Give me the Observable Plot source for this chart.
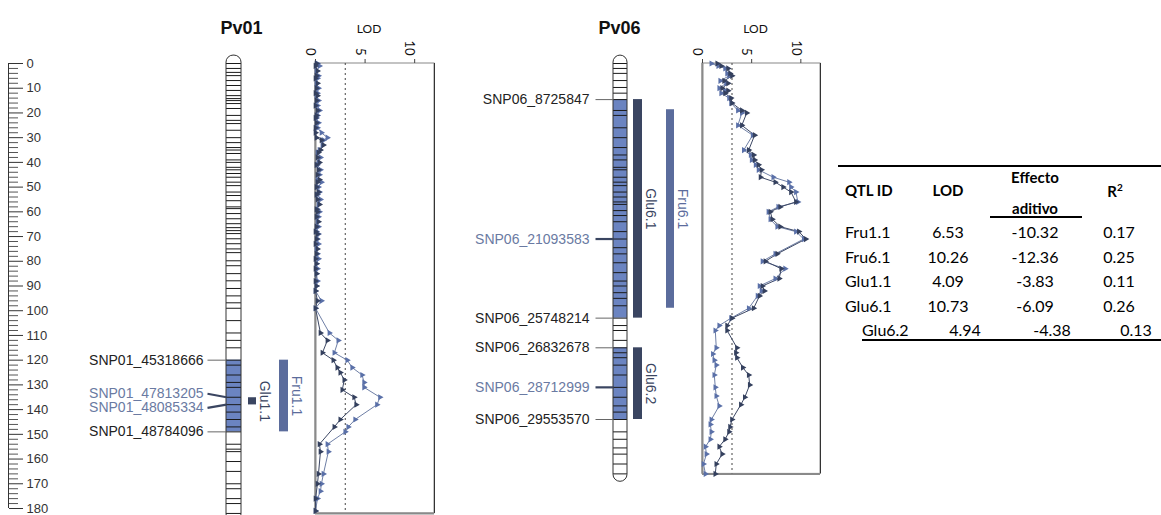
<!DOCTYPE html>
<html><head><meta charset="utf-8">
<script src="https://cdn.jsdelivr.net/npm/d3@7"></script>
<script src="https://cdn.jsdelivr.net/npm/@observablehq/plot@0.6"></script>
<style>
html,body{margin:0;padding:0;background:#fff;}
#fig{position:relative;width:1161px;height:515px;overflow:hidden;background:#fff;}
#fig svg{position:absolute;left:0;top:0;}
.tb{position:absolute;font-family:Lato,"Open Sans",sans-serif;font-size:16px;color:#000;white-space:nowrap;line-height:1;}
.tb.b{font-weight:bold;font-size:15px;}
.rule{position:absolute;height:2px;background:#000;}
</style></head><body><div id="fig"></div>
<script>
// ---------------- DATA ----------------
const chromNames = ["Pv01", "Pv06"];
const chromLength = [182, 166];           // cM
const axisMajor = d3.range(0, 181, 10);
const axisMinor = d3.range(0, 181, 2).filter(d => d % 10 !== 0);
const lodTicks = [0, 5, 10];
const lodThreshold = 3.0;

const pv01MarkerCm = [0,2,3.6,4.9,6.9,8.9,10.9,13,14.2,15,16.2,18.2,21,23,24.3,27,30,32,34,35,36.4,39,40,42,43,44.5,46,48,49.4,52,53.4,55.5,58,58.7,60.7,62.8,64.8,66.4,67.6,68.8,70.9,72.9,75,76.5,79.8,81.8,85,87.9,91,94,96.8,99,104,109,112,115,120,122,126,129,131,135,138,141,144,147,149,154,156,157,161,165,170,172,176,178,182];
const pv06MarkerCm = [0,2,4,6.9,9.7,12,14.6,19,21,26,30,34,37,39,42,43,46,48,49.4,52,54,56,57,59.5,61.5,64,68,71,74.5,77,80.6,84.6,88,90,92.7,95,98,103,106,108,112,115,117,119,122,126,131,135,138.5,141,144,149,152,155.5,158,162,166];

const regionChrom = ["Pv01", "Pv06", "Pv06"];
const regionStart = [120, 14.6, 115];
const regionEnd = [149, 103, 144];

const snpName = ["SNP01_45318666","SNP01_47813205","SNP01_48085334","SNP01_48784096","SNP06_8725847","SNP06_21093583","SNP06_25748214","SNP06_26832678","SNP06_28712999","SNP06_29553570"];
const snpChrom = ["Pv01","Pv01","Pv01","Pv01","Pv06","Pv06","Pv06","Pv06","Pv06","Pv06"];
const snpCm = [120, 135, 138, 149, 14.6, 71, 103, 115, 131, 144];
const snpLabelCm = [120, 133.6, 139.3, 149, 14.6, 71, 103, 115, 131, 144];
const snpPeak = [false, true, true, false, false, true, false, false, true, false];

const qtlId = ["Glu1.1", "Fru1.1", "Glu6.1", "Fru6.1", "Glu6.2"];
const qtlChrom = ["Pv01", "Pv01", "Pv06", "Pv06", "Pv06"];
const qtlTrait = ["Glu", "Fru", "Glu", "Fru", "Glu"];
const qtlStart = [135.2, 120, 14.6, 18.7, 115];
const qtlEnd = [138.1, 149, 103, 99, 144];

// LOD profiles
const lod01FruCm = [0,1,3,5,6,8,10,12,13,15,17,19,21,22,24,26,28,30,31,33,35,36,38,40,41,43,45,47,48,50,52,53,55,57,59,60,62,64,66,68,69,71,73,75,77,79,81,83,85,88,90,92,96,99,109,112,117,120,123,126,129,131,135,138,144,147,149,154,157,166,170,173,176,181];
const lod01Fru = [0.2,0.4,0.1,0.3,0.2,0.1,0.3,0.2,0.1,0.3,0.2,0.4,0.2,0.1,0.3,0.2,0.6,1.2,0.8,0.7,0.4,0.2,0.5,0.3,0.2,0.5,0.4,0.2,0.6,0.3,0.4,0.2,0.5,0.3,0.2,0.4,0.3,0.2,0.3,0.1,0.3,0.2,0.3,0.1,0.2,0.3,0.1,0.2,0.1,0.2,0.1,0.0,0.6,0,1.4,2.3,1.9,3.2,3.7,4.7,4.9,4.9,6.5,6.2,4.0,3.3,3.0,1.2,1.3,0.8,0.6,0.5,0.2,0];
const lod01GluCm = [0,1,3,5,6,8,10,12,13,15,17,19,21,22,24,26,28,30,31,33,35,36,38,40,41,43,45,47,48,50,52,53,55,57,59,60,62,64,66,68,69,71,73,75,77,79,81,83,85,88,90,92,96,99,109,112,117,120,123,125,128,132,135,138,144,147,154,157,166,170,176,181];
const lod01Glu = [0.1,0.0,0.2,0.1,0.0,0.2,0.1,0.0,0.2,0.1,0.0,0.2,0.1,0.0,0.1,0.0,0.0,0.1,0.6,0.8,0.5,0.3,0.2,0.4,0.1,0.3,0.2,0.4,0.2,0.1,0.3,0.1,0.2,0.4,0.1,0.2,0.1,0.3,0.1,0.0,0.2,0.1,0.0,0.2,0.1,0.0,0.1,0.0,0.1,0.0,0.1,0.0,0.2,0,0.5,1.2,0.7,1.8,2.2,2.5,2.9,2.7,3.9,4.1,2.5,1.9,0.4,0.5,0.3,0.2,0,0];

const lod06FruCm = [0,1,2,4,5,7,8,10,11,12,14,16,19,20,25,29,35,37,39,41,43,46,48,50,52,56,58,60,63,66,68,71,77,80,83,87,90,92,94,99,103,106,108,115,117.5,120,122,126,131,134.5,138.5,144,146,149,152,155,158,162,166];
const lod06Fru = [0.9,1.6,2.3,2.5,2.7,1.8,2.4,1.7,2.3,1.9,2.7,2.9,3.6,4.0,3.6,5.1,4.2,4.9,5.0,5.4,5.7,7.2,8.8,9.0,9.5,9.7,7.7,6.7,6.9,7.6,9.5,10.3,7.4,6.1,8.4,7.4,5.8,6.0,5.6,4.7,2.9,1.7,1.3,1.4,1.05,1.2,1.4,1.2,1.3,1.4,1.7,0.9,0.8,0.9,0.8,0.3,0.4,0.1,0.3];
const lod06GluCm = [0,1,2,4,5,7,8,10,11,12,14,16,19,20,25,29,35,37,39,41,43,46,48,50,52,56,58,60,63,66,68,71,77,80,83,87,90,92,94,99,103,106,108,115,117,119,123,126,130,135,138,144,147,149,152,155,158,162,166];
const lod06Glu = [1.5,1.9,2.6,2.8,3.0,2.2,2.6,2.0,2.6,2.3,2.9,3.0,4.0,4.5,4.0,5.3,4.7,5.2,5.3,5.7,6.0,5.9,7.4,8.2,9.0,9.5,7.9,6.9,7.1,7.9,9.8,10.5,7.6,6.4,8.0,7.8,6.1,6.3,5.8,5.2,3.0,2.5,2.5,3.5,3.4,3.5,4.1,4.7,4.8,4.3,3.9,3.0,2.8,2.7,2.3,1.7,2.0,1.4,1.3];

// Table
const tableHeader = ["QTL ID", "LOD", "Effecto", "aditivo", "R"];
const tableId = ["Fru1.1", "Fru6.1", "Glu1.1", "Glu6.1", "Glu6.2"];
const tableLod = ["6.53", "10.26", "4.09", "10.73", "4.94"];
const tableEffect = ["-10.32", "-12.36", "-3.83", "-6.09", "-4.38"];
const tableR2 = ["0.17", "0.25", "0.11", "0.26", "0.13"];

// ---------------- LAYOUT / STYLE ----------------
const W = 1161, H = 515;
const Y = {domain: [0, 180], range: [63, 508], axis: null};
const LAY = {
  Pv01: {chr: [226, 241], labelEnd: 203, leaderStart: 207, Glu: [248, 256], Fru: [279, 288], title: 241, lod: [315, 434]},
  Pv06: {chr: [613, 627], labelEnd: 589, leaderStart: 595, Glu: [633, 642], Fru: [666, 674], title: 619, lod: [702, 820]}
};
const COL = {chrBlue: "#6b84c1", Glu: "#3a4561", Fru: "#5b6c9c", peakLabel: "#6a7aa2", fruLine: "#6f7fa6", gluLine: "#3d4865", fruDot: "#5a70a8", gluDot: "#34405e"};
const SANS = "Liberation Sans, Arial, sans-serif";
const CAP = 3.2; // rounded cap extent in cM
const baseStyle = {background: "transparent", overflow: "visible", fontFamily: SANS, color: "#222"};
const fig = document.getElementById("fig");

// ---------------- LEFT SCALE ----------------
fig.appendChild(Plot.plot({
  width: 60, height: H, marginTop: 63, marginBottom: 7, marginLeft: 0, marginRight: 52,
  x: {domain: [0, 1], range: [8, 60], axis: null}, y: Y,
  style: {...baseStyle, color: "#333"},
  marks: [
    Plot.ruleX([0], {y1: 0, y2: 180, stroke: "#333"}),
    Plot.axisY({anchor: "right", ticks: axisMinor, tickSize: 9, tickFormat: () => "", label: null, stroke: "#555"}),
    Plot.axisY({anchor: "right", ticks: axisMajor, tickSize: 14, tickPadding: 4, fontSize: 13, label: null})
  ]
}));

// ---------------- CHROMOSOMES, MARKERS, QTL ----------------
const chroms = chromNames.map((c, i) => ({c, len: chromLength[i]}));
const markers = [
  ...pv01MarkerCm.map(cm => ({c: "Pv01", cm})),
  ...pv06MarkerCm.map(cm => ({c: "Pv06", cm}))
];
const regions = regionChrom.map((c, i) => ({c, s: regionStart[i], e: regionEnd[i]}));
const snps = snpName.map((n, i) => ({n, c: snpChrom[i], cm: snpCm[i], lcm: snpLabelCm[i], peak: snpPeak[i]}));
const qtls = qtlId.map((id, i) => ({id, c: qtlChrom[i], t: qtlTrait[i], s: qtlStart[i], e: qtlEnd[i]}));

fig.appendChild(Plot.plot({
  width: W, height: H, margin: 0,
  x: {type: "linear", domain: [0, W], range: [0, W], axis: null}, y: Y,
  style: baseStyle,
  marks: [
    Plot.rect(chroms, {x1: d => LAY[d.c].chr[0], x2: d => LAY[d.c].chr[1], y1: -CAP, y2: d => d.len + CAP, rx: 7, fill: "white"}),
    Plot.rect(regions, {x1: d => LAY[d.c].chr[0], x2: d => LAY[d.c].chr[1], y1: "s", y2: "e", fill: COL.chrBlue}),
    Plot.ruleY(markers, {y: "cm", x1: d => LAY[d.c].chr[0], x2: d => LAY[d.c].chr[1], stroke: "#1a1a1a", strokeWidth: 1}),
    Plot.rect(chroms, {x1: d => LAY[d.c].chr[0], x2: d => LAY[d.c].chr[1], y1: -CAP, y2: d => d.len + CAP, rx: 7, fill: "none", stroke: "#333", strokeWidth: 1}),
    Plot.link(snps, {x1: d => LAY[d.c].leaderStart, x2: d => LAY[d.c].chr[0], y1: "lcm", y2: "cm",
      stroke: d => d.peak ? COL.Glu : "#666", strokeWidth: d => d.peak ? 2.2 : 1}),
    Plot.text(snps, {x: d => LAY[d.c].labelEnd, y: "lcm", text: "n", textAnchor: "end", fontSize: 14,
      fill: d => d.peak ? COL.peakLabel : "#222"}),
    Plot.rect(qtls, {x1: d => LAY[d.c][d.t][0], x2: d => LAY[d.c][d.t][1], y1: "s", y2: "e", fill: d => COL[d.t]}),
    Plot.text(qtls, {x: d => LAY[d.c][d.t][1] + 8, y: d => (d.s + d.e) / 2, text: "id", rotate: 90, fontSize: 14, fill: d => COL[d.t]}),
    Plot.text(chroms, {x: d => LAY[d.c].title, frameAnchor: "top", dy: 21, text: "c", fontSize: 18, fontWeight: "bold", fill: "#111"})
  ]
}));

// ---------------- LOD PANELS ----------------
const lodSeries = {
  Pv01: {Fru: lod01FruCm.map((cm, i) => ({cm, lod: lod01Fru[i]})), Glu: lod01GluCm.map((cm, i) => ({cm, lod: lod01Glu[i]}))},
  Pv06: {Fru: lod06FruCm.map((cm, i) => ({cm, lod: lod06Fru[i]})), Glu: lod06GluCm.map((cm, i) => ({cm, lod: lod06Glu[i]}))}
};
const lodMax = 12;
chroms.forEach(({c, len}) => {
  const s = lodSeries[c];
  fig.appendChild(Plot.plot({
    width: W, height: H, marginTop: 62, marginBottom: 0, marginLeft: 0, marginRight: 0,
    x: {domain: [0, lodMax], range: LAY[c].lod, axis: null}, y: Y,
    style: baseStyle,
    marks: [
      Plot.rect([len], {x1: 0, x2: lodMax, y1: 0, y2: d => d, fill: "white", stroke: "#888", strokeWidth: 1}),
      Plot.ruleX([0], {y1: 0, y2: len, stroke: "#8a8a8a", strokeWidth: 2}),
      Plot.ruleX([lodMax], {y1: 0, y2: len, stroke: "#333", strokeWidth: 1}),
      Plot.ruleY([len], {x1: 0, x2: lodMax, stroke: "#8a8a8a", strokeWidth: 2}),
      Plot.ruleX([lodThreshold], {y1: 0, y2: len, stroke: "#444", strokeDasharray: "2,3"}),
      Plot.axisX({anchor: "top", ticks: lodTicks, tickSize: 4, tickFormat: () => "", label: null, stroke: "#444"}),
      Plot.text(lodTicks, {x: d => d, frameAnchor: "top", dy: -7, rotate: 90, textAnchor: "end", fontSize: 13, fontFamily: "Lato, sans-serif", fill: "#111"}),
      Plot.text(["LOD"], {x: 5.4, frameAnchor: "top", dy: -38, text: d => d, fontSize: 12, fontFamily: "Lato, sans-serif", fill: "#111"}),
      Plot.line(s.Fru, {x: "lod", y: "cm", stroke: COL.fruLine, strokeWidth: 1}),
      Plot.line(s.Glu, {x: "lod", y: "cm", stroke: COL.gluLine, strokeWidth: 1}),
      Plot.dot(s.Fru, {x: "lod", y: "cm", symbol: "triangle", r: 2.3, rotate: 90, fill: COL.fruDot, stroke: "none"}),
      Plot.dot(s.Glu, {x: "lod", y: "cm", symbol: "triangle", r: 2.3, rotate: 90, fill: COL.gluDot, stroke: "none"})
    ]
  }));
});

// ---------------- TABLE ----------------
const TB = {top: 166, left: 838, right: 1161, idX: 845, lodX: 948, effX: 1035, r2X: 1119, hdrY: 190, effY1: 177, effY2: 208, rowY0: 232, rowStep: 24.6, lastShift: 17, bottom: 340};
function addText(txt, x, y, cls, anchor) {
  const d = document.createElement("div");
  d.className = "tb " + (cls || "");
  d.innerHTML = txt;
  d.style.left = x + "px"; d.style.top = y + "px";
  d.style.transform = anchor === "left" ? "translate(0,-50%)" : "translate(-50%,-50%)";
  fig.appendChild(d);
  return d;
}
function addRule(x1, x2, y) {
  const d = document.createElement("div");
  d.className = "rule";
  d.style.left = x1 + "px"; d.style.width = (x2 - x1) + "px"; d.style.top = (y - 1) + "px";
  fig.appendChild(d);
}
addRule(TB.left, TB.right, TB.top);
addText(tableHeader[0], TB.idX, TB.hdrY, "b", "left");
addText(tableHeader[1], TB.lodX, TB.hdrY, "b");
addText(tableHeader[2], TB.effX, TB.effY1, "b");
addText(tableHeader[3], TB.effX, TB.effY2, "b");
addRule(990, 1082, 217);
addText(tableHeader[4] + "<sup style='font-size:10px'>2</sup>", TB.r2X - 4, TB.hdrY, "b");
tableId.forEach((id, i) => {
  const y = TB.rowY0 + i * TB.rowStep;
  const sh = i === tableId.length - 1 ? TB.lastShift : 0;
  addText(id, TB.idX + sh, y, "", "left");
  addText(tableLod[i], TB.lodX + sh, y);
  addText(tableEffect[i], TB.effX + sh, y);
  addText(tableR2[i], TB.r2X + sh, y);
});
addRule(862, TB.right, TB.bottom);
</script></body></html>
